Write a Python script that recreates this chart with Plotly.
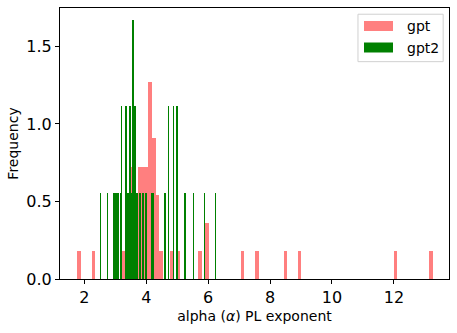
import plotly.graph_objects as go

# ---- data (alpha PL exponents) ----
gpt_alpha = [
    1.831, 2.291, 3.210, 3.325,
    3.541, 3.556, 3.566, 3.550,
    3.670,
    3.770, 3.785, 3.795, 3.780,
    3.890, 3.900, 3.910, 3.895,
    4.005, 4.015, 4.025, 4.010,
    4.115, 4.125, 4.130, 4.135, 4.120, 4.140, 4.128,
    4.235, 4.244, 4.250, 4.240, 4.248,
    4.350, 4.359, 4.365,
    4.474, 4.819, 5.049, 5.738, 5.960, 5.975,
    7.117, 7.576, 8.496, 8.955, 12.058, 13.207,
]
gpt2_alpha = [
    2.526, 2.750, 2.937, 2.974, 3.012, 3.049, 3.086, 3.161,
    3.199, 3.199, 3.348, 3.348, 3.385, 3.423, 3.460, 3.460,
    3.498, 3.498, 3.535, 3.572, 3.572, 3.572, 3.610, 3.610,
    3.647, 3.647, 3.684, 3.722, 3.797, 3.871, 3.909, 3.984,
    4.021, 4.170, 4.208, 4.245, 4.582, 4.619, 4.731, 4.731,
    4.881, 4.881, 4.993, 4.993, 5.254, 5.516, 5.890, 6.226,
]
series_names = ["gpt", "gpt2"]
n_bins = 100
gpt_bin_range = [1.774, 13.263]
gpt2_bin_range = [2.507, 6.245]
x_ticks = [2, 4, 6, 8, 10, 12]
y_ticks = [0.0, 0.5, 1.0, 1.5]

RED = "rgba(255,0,0,0.5)"
GREEN = "rgba(0,128,0,0.999)"   # <1 opacity => thin bars rounded, not expanded
FONT = "DejaVu Sans"

def bins(rng):
    return dict(start=rng[0], end=rng[1], size=(rng[1] - rng[0]) / n_bins)

fig = go.Figure()
fig.add_trace(go.Histogram(x=gpt_alpha, xbins=bins(gpt_bin_range), histnorm="probability density",
                           marker=dict(color=RED, line=dict(width=0)), name=series_names[0],
                           showlegend=False))
fig.add_trace(go.Histogram(x=gpt2_alpha, xbins=bins(gpt2_bin_range), histnorm="probability density",
                           marker=dict(color=GREEN, line=dict(width=0)), name=series_names[1],
                           showlegend=False))

fig.update_layout(
    width=457, height=333,
    margin=dict(l=60, r=8, t=8, b=54),
    barmode="overlay", bargap=0, bargroupgap=0,
    plot_bgcolor="white", paper_bgcolor="white",
    font=dict(family=FONT, color="black"),
    xaxis=dict(range=[1.215, 13.78], tickvals=x_ticks, ticktext=[str(v) for v in x_ticks],
               showgrid=False, zeroline=False, showline=True, linecolor="black", linewidth=1,
               mirror=True, ticks="outside", ticklen=4, tickcolor="black",
               tickfont=dict(size=16, family=FONT),
               title=dict(text="alpha (<i>α</i>) PL exponent", font=dict(size=14, family=FONT), standoff=4)),
    yaxis=dict(range=[0, 1.748], tickvals=y_ticks, ticktext=["%.1f" % v for v in y_ticks],
               showgrid=False, zeroline=False, showline=True, linecolor="black", linewidth=1,
               mirror=True, ticks="outside", ticklen=4, tickcolor="black",
               tickfont=dict(size=16, family=FONT),
               title=dict(text="Frequency", font=dict(size=14, family=FONT), standoff=4)),
)

# legend drawn as a box with swatches (matplotlib style)
fig.add_shape(type="rect", xref="paper", yref="paper", x0=0.766, x1=0.985, y0=0.802, y1=0.977,
              line=dict(color="#d0d0d0", width=1), fillcolor="rgba(255,255,255,0.8)", layer="above")
sw_x0, sw_x1 = (364 - 60) / 389, (393 - 60) / 389
for i, (name, col) in enumerate(zip(series_names, ["#ff8080", "#008000"])):
    yc = 26 + 21.5 * i
    y_top = (279 - (yc - 5)) / 271
    y_bot = (279 - (yc + 5)) / 271
    fig.add_shape(type="rect", xref="paper", yref="paper", x0=sw_x0, x1=sw_x1, y0=y_bot, y1=y_top,
                  line=dict(width=0), fillcolor=col, layer="above")
    fig.add_annotation(xref="paper", yref="paper", x=(405 - 60) / 389, y=(279 - yc) / 271,
                       text=name, showarrow=False, xanchor="left", yanchor="middle",
                       font=dict(size=14, family=FONT, color="black"))

fig.write_html("out.html")
